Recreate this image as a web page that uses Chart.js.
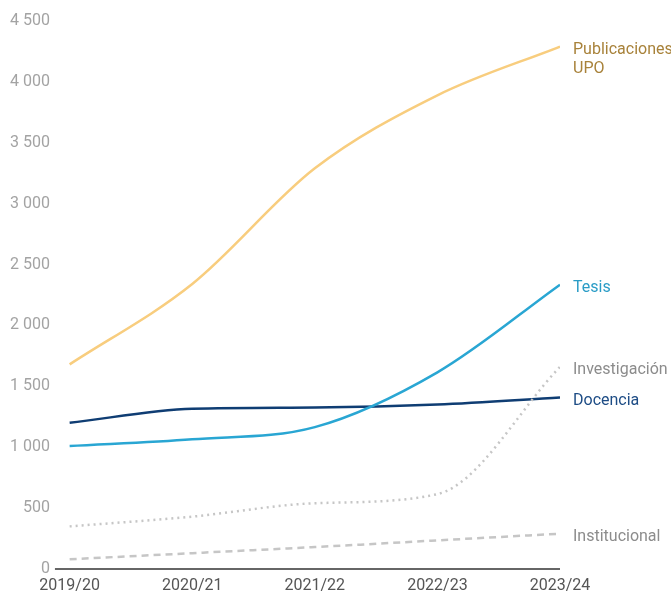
<!DOCTYPE html>
<html>
<head>
<meta charset="utf-8">
<script src="https://cdn.jsdelivr.net/npm/chart.js"></script>
<style>
  body { margin: 0; background: #fff; }
  #wrap { width: 671px; height: 593px; position: relative; }
</style>
</head>
<body>
<div id="wrap"><canvas id="grafico"></canvas></div>
<script>
const cursos = ["2019/20", "2020/21", "2021/22", "2022/23", "2023/24"];
const publicaciones = [1680, 2340, 3290, 3890, 4290];
const tesis = [1010, 1065, 1165, 1615, 2335];
const docencia = [1200, 1316, 1326, 1350, 1408];
const investigacion = [350, 430, 540, 615, 1660];
const institucional = [80, 130, 180, 235, 290];

const toPoints = (arr) => arr.map((v, i) => ({ x: i, y: v }));
const miles = (v) => String(v).replace(/\B(?=(\d{3})+(?!\d))/g, " ");

// linea del eje x desde el minimo hasta el maximo de la escala
const ejeX = {
  id: "ejeX",
  beforeDatasetsDraw(chart) {
    const { ctx, scales } = chart;
    const y0 = scales.y.getPixelForValue(0);
    ctx.save();
    ctx.strokeStyle = "#333";
    ctx.lineWidth = 1.5;
    ctx.beginPath();
    ctx.moveTo(scales.x.getPixelForValue(scales.x.min), y0);
    ctx.lineTo(scales.x.getPixelForValue(scales.x.max), y0);
    ctx.stroke();
    ctx.restore();
  },
};

// etiquetas al final de cada linea
const etiquetas = {
  id: "etiquetas",
  afterDatasetsDraw(chart) {
    const ctx = chart.ctx;
    ctx.save();
    ctx.font = "16px Roboto";
    ctx.textBaseline = "middle";
    ctx.textAlign = "left";
    chart.data.datasets.forEach((ds, i) => {
      const meta = chart.getDatasetMeta(i);
      const p = meta.data[meta.data.length - 1];
      ctx.fillStyle = ds.labelColor;
      const lines = ds.label.split("\n");
      lines.forEach((t, k) => {
        ctx.fillText(t, p.x + 13, p.y + 3 + k * 19);
      });
    });
    ctx.restore();
  },
};

const datasets = [
  {
    label: "Publicaciones\nUPO",
    data: toPoints(publicaciones),
    borderColor: "#f8cd7e",
    labelColor: "#a8823a",
    borderWidth: 2.5,
  },
  {
    label: "Tesis",
    data: toPoints(tesis),
    borderColor: "#29a6d3",
    labelColor: "#2a9cc6",
    borderWidth: 2.5,
  },
  {
    label: "Investigación",
    data: toPoints(investigacion),
    borderColor: "#c6c6c6",
    labelColor: "#8c8c8c",
    borderWidth: 2.5,
    borderDash: [2, 4],
  },
  {
    label: "Docencia",
    data: toPoints(docencia),
    borderColor: "#0f3d73",
    labelColor: "#1d4c85",
    borderWidth: 2.5,
  },
  {
    label: "Institucional",
    data: toPoints(institucional),
    borderColor: "#c6c6c6",
    labelColor: "#8c8c8c",
    borderWidth: 2.5,
    borderDash: [7, 5],
  },
];

new Chart(document.getElementById("grafico"), {
  type: "line",
  data: { datasets },
  options: {
    responsive: true,
    maintainAspectRatio: false,
    animation: false,
    layout: { autoPadding: false, padding: { top: 21, right: 111, bottom: -10, left: 5 } },
    elements: {
      point: { radius: 0 },
      line: { cubicInterpolationMode: "monotone", fill: false },
    },
    plugins: {
      legend: { display: false },
      tooltip: { enabled: false },
    },
    scales: {
      x: {
        type: "linear",
        min: -0.12,
        max: 4,
        afterBuildTicks: (scale) => {
          scale.ticks = cursos.map((_, i) => ({ value: i }));
        },
        ticks: {
          callback: (v) => cursos[v],
          color: "#555",
          font: { family: "Roboto", size: 16, lineHeight: 1 },
          padding: 9,
          maxRotation: 0,
        },
        grid: { display: false, drawTicks: false },
        border: { display: false },
      },
      y: {
        min: 0,
        max: 4500,
        ticks: {
          stepSize: 500,
          callback: (v) => miles(v),
          color: "#a3a3a3",
          font: { family: "Roboto", size: 16 },
          padding: 5,
        },
        grid: { display: false, drawTicks: false },
        border: { display: false },
      },
    },
  },
  plugins: [ejeX, etiquetas],
});
</script>
</body>
</html>
